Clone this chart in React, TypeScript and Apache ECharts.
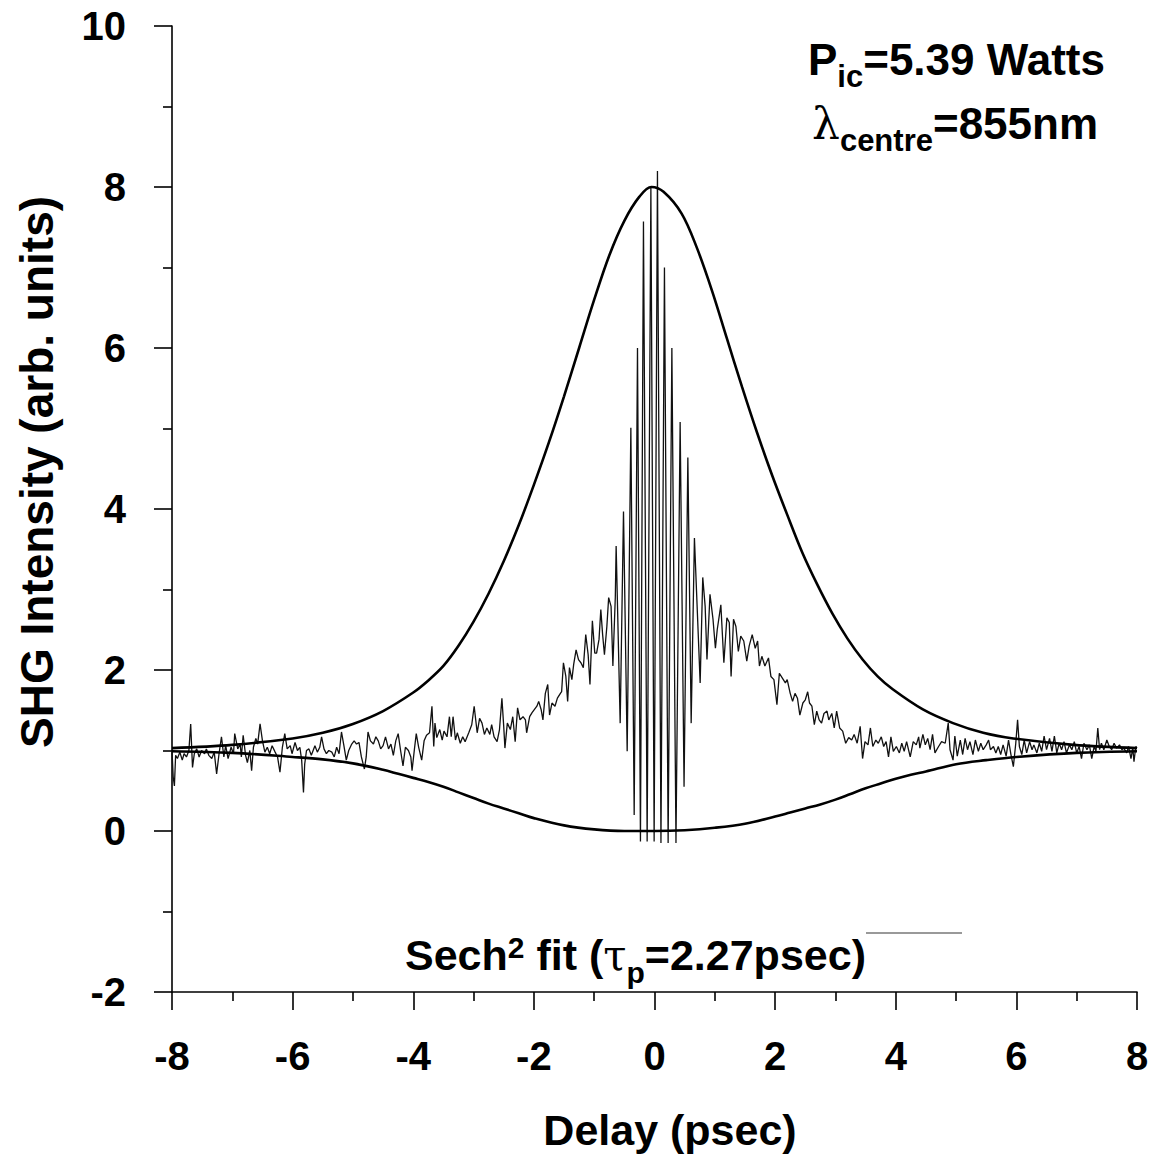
import React, { useEffect, useRef } from "react";
import * as echarts from "echarts";

const FONT = '"Liberation Sans", Arial, Helvetica, sans-serif';

// Axis settings (psec, arb. units)
const xRange = [-8, 8];
const yRange = [-2, 10];

// Sech^2 fit: upper envelope [delay, intensity]
const fitUpper: number[][] = [
  [-8, 1.03], [-7, 1.07], [-6, 1.15], [-5.5, 1.22], [-5, 1.33], [-4.5, 1.49], [-4, 1.72],
  [-3.75, 1.87], [-3.5, 2.05], [-3.25, 2.3], [-3, 2.6], [-2.75, 2.95], [-2.5, 3.35], [-2.25, 3.8],
  [-2, 4.3], [-1.75, 4.83], [-1.5, 5.4], [-1.25, 6.0], [-1, 6.6], [-0.75, 7.15], [-0.5, 7.58],
  [-0.25, 7.88], [-0.05, 8.0], [0.15, 7.94], [0.45, 7.67], [0.7, 7.25], [0.95, 6.72], [1.2, 6.12],
  [1.45, 5.52], [1.7, 4.95], [1.95, 4.42], [2.2, 3.93], [2.45, 3.46], [2.7, 3.06], [2.95, 2.7],
  [3.2, 2.39], [3.45, 2.13], [3.7, 1.92], [3.95, 1.76], [4.45, 1.51], [4.95, 1.34], [5.45, 1.22],
  [5.95, 1.15], [6.95, 1.07], [8, 1.03],
];

// Sech^2 fit: lower envelope [delay, intensity]
const fitLower: number[][] = [
  [-8, 0.99], [-7, 0.97], [-6, 0.92], [-5.5, 0.89], [-5, 0.84], [-4.5, 0.76], [-4.25, 0.71],
  [-4, 0.66], [-3.75, 0.61], [-3.5, 0.55], [-3.25, 0.48], [-3, 0.41], [-2.75, 0.34], [-2.5, 0.28],
  [-2.25, 0.22], [-2, 0.16], [-1.5, 0.07], [-1, 0.02], [-0.5, 0.0], [0, 0.0], [0.5, 0.01],
  [1, 0.04], [1.5, 0.09], [2, 0.18], [2.25, 0.23], [2.5, 0.28], [2.75, 0.33], [3, 0.39],
  [3.25, 0.46], [3.5, 0.53], [3.75, 0.59], [4, 0.65], [4.25, 0.7], [4.5, 0.74], [5, 0.83],
  [5.5, 0.88], [6, 0.92], [7, 0.97], [8, 0.99],
];

const traceLeft: number[][] = [
  [-8.0, 1.0], [-7.98, 0.67], [-7.96, 0.56], [-7.94, 0.94], [-7.91, 0.9], [-7.87, 0.98], [-7.83, 0.88],
  [-7.8, 0.96], [-7.76, 0.92], [-7.72, 1.0], [-7.69, 1.33], [-7.66, 0.79], [-7.63, 0.96], [-7.59, 1.02],
  [-7.55, 0.92], [-7.51, 1.0], [-7.46, 0.96], [-7.43, 1.02], [-7.39, 0.94], [-7.34, 0.9], [-7.3, 0.98],
  [-7.26, 0.71], [-7.22, 0.96], [-7.18, 1.17], [-7.14, 0.92], [-7.11, 1.06], [-7.07, 0.9], [-7.02, 1.04],
  [-6.98, 0.96], [-6.96, 1.21], [-6.91, 1.02], [-6.87, 1.08], [-6.85, 0.92], [-6.82, 1.19], [-6.78, 0.94],
  [-6.75, 0.85], [-6.71, 1.0], [-6.68, 0.75], [-6.65, 1.04], [-6.61, 1.15], [-6.58, 1.08], [-6.54, 1.33],
  [-6.5, 1.12], [-6.46, 0.98], [-6.42, 1.04], [-6.38, 0.96], [-6.34, 1.06], [-6.29, 0.98], [-6.25, 0.92],
  [-6.21, 0.73], [-6.17, 1.04], [-6.13, 1.21], [-6.09, 1.02], [-6.04, 1.06], [-6.01, 0.96], [-5.96, 1.1],
  [-5.92, 1.0], [-5.88, 1.04], [-5.85, 0.88], [-5.82, 0.48], [-5.8, 0.83], [-5.77, 1.0], [-5.73, 1.02],
  [-5.69, 0.94], [-5.63, 1.06], [-5.59, 0.98], [-5.55, 1.04], [-5.52, 1.17], [-5.48, 1.02], [-5.44, 0.96],
  [-5.4, 1.0], [-5.35, 0.98], [-5.31, 0.92], [-5.27, 1.04], [-5.23, 0.96], [-5.19, 1.23], [-5.15, 1.06],
  [-5.11, 0.88], [-5.07, 1.0], [-5.02, 1.08], [-4.98, 1.12], [-4.94, 1.08], [-4.9, 1.1], [-4.86, 0.92],
  [-4.81, 0.77], [-4.78, 0.92], [-4.75, 1.23], [-4.71, 1.12], [-4.66, 1.08], [-4.62, 1.17], [-4.58, 1.12],
  [-4.54, 1.02], [-4.5, 1.06], [-4.46, 1.17], [-4.41, 1.02], [-4.37, 1.08], [-4.33, 0.94], [-4.29, 1.12],
  [-4.25, 1.21], [-4.21, 1.0], [-4.17, 0.81], [-4.13, 1.04], [-4.08, 1.0], [-4.04, 0.92], [-4.02, 0.75],
  [-3.98, 1.02], [-3.95, 1.21], [-3.91, 1.04], [-3.86, 0.88], [-3.82, 1.12], [-3.78, 1.19],
];

const traceRise: number[][] = [
  [-3.73, 1.22], [-3.69, 1.55], [-3.66, 1.05], [-3.64, 1.34], [-3.61, 1.16], [-3.56, 1.26], [-3.52, 1.13],
  [-3.49, 1.24], [-3.44, 1.17], [-3.4, 1.42], [-3.37, 1.17], [-3.34, 1.42], [-3.3, 1.13], [-3.27, 1.22],
  [-3.22, 1.09], [-3.18, 1.17], [-3.14, 1.11], [-3.08, 1.22], [-3.03, 1.32], [-2.99, 1.55], [-2.94, 1.22],
  [-2.9, 1.4], [-2.86, 1.34], [-2.82, 1.2], [-2.78, 1.28], [-2.73, 1.2], [-2.7, 1.32], [-2.66, 1.17],
  [-2.61, 1.11], [-2.57, 1.26], [-2.53, 1.65], [-2.5, 1.3], [-2.48, 1.03], [-2.44, 1.34], [-2.39, 1.26],
  [-2.35, 1.42], [-2.31, 1.11], [-2.27, 1.53], [-2.23, 1.38], [-2.18, 1.42], [-2.14, 1.38], [-2.12, 1.22],
  [-2.07, 1.42], [-2.03, 1.47], [-1.99, 1.51], [-1.95, 1.55], [-1.92, 1.61], [-1.88, 1.51], [-1.85, 1.38],
  [-1.81, 1.71], [-1.77, 1.82], [-1.74, 1.44], [-1.7, 1.59], [-1.65, 1.55], [-1.61, 1.65], [-1.56, 1.71],
  [-1.54, 1.73], [-1.51, 2.09], [-1.47, 1.92], [-1.44, 1.61], [-1.41, 2.03], [-1.37, 1.88], [-1.34, 2.07],
  [-1.3, 2.25], [-1.26, 2.13], [-1.22, 2.09], [-1.18, 2.03], [-1.14, 2.44], [-1.1, 2.19], [-1.07, 1.82],
  [-1.03, 2.61], [-0.99, 2.21], [-0.96, 2.21], [-0.92, 2.38], [-0.89, 2.75], [-0.86, 2.44], [-0.83, 2.19],
  [-0.79, 2.54], [-0.76, 2.9], [-0.72, 2.79], [-0.69, 2.05], [-0.65, 2.9],
];

const traceFringes: number[][] = [
  [-0.636, 3.54], [-0.569, 1.34], [-0.514, 3.97], [-0.453, 0.99], [-0.392, 5.01], [-0.337, 0.2],
  [-0.282, 6.0], [-0.233, -0.13], [-0.183, 7.57], [-0.122, -0.13], [-0.06, 8.0], [-0.006, -0.13],
  [0.049, 8.2], [0.107, -0.15], [0.165, 7.0], [0.226, -0.15], [0.288, 6.0], [0.356, -0.15],
  [0.425, 5.08], [0.49, 0.55], [0.553, 4.64], [0.608, 1.34], [0.662, 3.64],
];

const traceFall: number[][] = [
  [0.757, 1.84], [0.8, 3.15], [0.84, 2.79], [0.87, 2.13], [0.92, 2.94], [0.97, 2.63], [1.01, 2.27],
  [1.04, 2.5], [1.1, 2.81], [1.15, 2.09], [1.2, 2.65], [1.24, 2.59], [1.27, 1.92], [1.31, 2.63],
  [1.35, 2.54], [1.39, 2.23], [1.43, 2.42], [1.48, 2.36], [1.53, 2.11], [1.57, 2.3], [1.62, 2.44],
  [1.67, 2.27], [1.71, 2.36], [1.74, 2.05], [1.78, 2.17], [1.83, 2.05], [1.89, 2.15], [1.93, 1.92],
  [1.98, 1.88], [2.03, 1.57], [2.07, 1.96], [2.12, 1.9], [2.17, 1.84], [2.2, 1.88], [2.25, 1.71],
  [2.29, 1.61], [2.33, 1.71], [2.37, 1.65], [2.41, 1.44], [2.46, 1.59], [2.5, 1.63], [2.54, 1.73],
  [2.57, 1.59], [2.61, 1.55], [2.65, 1.32], [2.69, 1.49], [2.73, 1.38], [2.77, 1.34], [2.81, 1.46],
  [2.86, 1.49], [2.89, 1.38], [2.94, 1.46], [2.98, 1.28], [3.02, 1.49], [3.07, 1.28], [3.12, 1.24],
  [3.17, 1.09], [3.22, 1.16], [3.27, 1.13], [3.31, 1.2], [3.36, 1.09], [3.41, 1.3], [3.45, 0.9],
  [3.49, 1.11], [3.54, 1.07], [3.58, 1.28], [3.62, 1.05], [3.67, 1.13], [3.71, 1.09], [3.76, 1.17],
  [3.8, 1.05], [3.84, 1.11], [3.88, 0.92], [3.92, 1.17], [3.96, 0.99], [4.01, 1.05], [4.06, 0.97],
  [4.1, 1.09], [4.14, 0.99], [4.18, 1.11], [4.24, 0.92], [4.29, 1.11], [4.34, 1.07], [4.38, 1.17],
];

const traceRight: number[][] = [
  [4.4, 1.03], [4.45, 1.2], [4.49, 1.07], [4.53, 1.15], [4.57, 1.01], [4.61, 1.2], [4.65, 0.97],
  [4.71, 1.05], [4.76, 1.11], [4.82, 1.09], [4.87, 1.34], [4.9, 1.01], [4.95, 0.88], [4.98, 1.18],
  [5.02, 0.93], [5.07, 1.13], [5.11, 0.95], [5.15, 1.15], [5.19, 1.01], [5.23, 1.11], [5.28, 0.95],
  [5.32, 1.13], [5.37, 0.99], [5.41, 1.09], [5.45, 1.01], [5.5, 1.07], [5.54, 1.13], [5.57, 1.01],
  [5.62, 1.05], [5.66, 0.97], [5.7, 1.05], [5.74, 0.95], [5.78, 1.07], [5.83, 0.93], [5.87, 1.13],
  [5.91, 0.95], [5.95, 0.8], [5.99, 1.09], [6.02, 1.38], [6.05, 1.05], [6.09, 0.95], [6.13, 1.13],
  [6.17, 0.97], [6.22, 1.11], [6.26, 1.01], [6.29, 1.07], [6.34, 0.97], [6.38, 1.09], [6.42, 0.99],
  [6.46, 1.18], [6.5, 1.01], [6.55, 1.15], [6.59, 0.99], [6.63, 1.18], [6.67, 0.97], [6.71, 1.09],
  [6.75, 1.01], [6.79, 1.11], [6.83, 0.97], [6.88, 1.07], [6.92, 1.01], [6.96, 1.11], [7.0, 0.97],
  [7.04, 1.05], [7.08, 0.9], [7.12, 1.09], [7.17, 1.01], [7.21, 1.07], [7.25, 0.9], [7.29, 1.05],
  [7.32, 0.99], [7.35, 1.28], [7.38, 1.01], [7.41, 1.09], [7.45, 1.01], [7.5, 1.13], [7.54, 1.05],
  [7.58, 1.01], [7.62, 1.09], [7.66, 1.03], [7.71, 1.07], [7.75, 1.01], [7.78, 1.03], [7.83, 0.97],
  [7.86, 1.05], [7.9, 0.9], [7.93, 1.03], [7.95, 0.86], [7.98, 1.05], [8.0, 1.03],
];

// Texts
const xTitle = "Delay (psec)";
const yTitle = "SHG Intensity (arb. units)";
type Run = { t: string; size: number; dy: number; fam?: string; w?: string };
const powerLabel: Run[] = [
  { t: "P", size: 44, dy: 0 },
  { t: "ic", size: 31, dy: 11 },
  { t: "=5.39 Watts", size: 44, dy: 0 },
];
const lambdaLabel: Run[] = [
  { t: "\u03bb", size: 44, dy: 0, w: "normal", fam: '"DejaVu Serif", serif' },
  { t: "centre", size: 31, dy: 11 },
  { t: "=855nm", size: 44, dy: 0 },
];
const fitLabel: Run[] = [
  { t: "Sech", size: 43, dy: 0 },
  { t: "2", size: 30, dy: -14 },
  { t: " fit (", size: 43, dy: 0 },
  { t: "\u03c4", size: 42, dy: 0, w: "normal", fam: '"DejaVu Serif", serif' },
  { t: "p", size: 30, dy: 11 },
  { t: "=2.27psec)", size: 43, dy: 0 },
];

let measureCtx: CanvasRenderingContext2D | null = null;
function textWidth(r: Run): number {
  if (!measureCtx) measureCtx = document.createElement("canvas").getContext("2d");
  if (!measureCtx) return r.t.length * r.size * 0.55;
  measureCtx.font = `${r.w || "bold"} ${r.size}px ${r.fam || FONT}`;
  return measureCtx.measureText(r.t).width;
}

function runsToGraphic(runs: Run[], x0: number, baseline: number) {
  let x = x0;
  return runs.map((r) => {
    const el = {
      type: "text",
      x,
      y: baseline + r.dy,
      style: {
        text: r.t,
        font: `${r.w || "bold"} ${r.size}px ${r.fam || FONT}`,
        fill: "#000",
        align: "left",
        verticalAlign: "bottom",
      },
    };
    x += textWidth(r);
    return el;
  });
}

export default function App() {
  const ref = useRef<HTMLDivElement>(null);
  useEffect(() => {
    document.body.style.margin = "0";
    if (!ref.current) return;
    const chart = echarts.init(ref.current, null, { renderer: "svg" });
    const trace = [...traceLeft, ...traceRise, ...traceFringes, ...traceFall, ...traceRight];
    const axisStyle = { color: "#000", width: 1.6 };
    chart.setOption({
      animation: false,
      backgroundColor: "#fff",
      grid: { left: 172, right: 20, top: 26, bottom: 169, containLabel: false },
      xAxis: {
        type: "value",
        min: xRange[0],
        max: xRange[1],
        interval: 2,
        axisLine: { show: true, onZero: false, lineStyle: axisStyle },
        axisTick: { show: true, length: 18, lineStyle: axisStyle },
        minorTick: { show: true, splitNumber: 2, length: 9, lineStyle: axisStyle },
        splitLine: { show: false },
        axisLabel: { fontFamily: FONT, fontWeight: "bold", fontSize: 40, color: "#000", margin: 44 },
      },
      yAxis: {
        type: "value",
        min: yRange[0],
        max: yRange[1],
        interval: 2,
        axisLine: { show: true, onZero: false, lineStyle: axisStyle },
        axisTick: { show: true, length: 18, lineStyle: axisStyle },
        minorTick: { show: true, splitNumber: 2, length: 9, lineStyle: axisStyle },
        splitLine: { show: false },
        axisLabel: { fontFamily: FONT, fontWeight: "bold", fontSize: 40, color: "#000", margin: 46 },
      },
      series: [
        {
          name: "upper fit",
          type: "line",
          data: fitUpper,
          smooth: 0.35,
          showSymbol: false,
          lineStyle: { color: "#000", width: 2.6 },
          z: 3,
        },
        {
          name: "lower fit",
          type: "line",
          data: fitLower,
          smooth: 0.35,
          showSymbol: false,
          lineStyle: { color: "#000", width: 2.6 },
          z: 3,
        },
        {
          name: "SHG trace",
          type: "line",
          data: trace,
          showSymbol: false,
          lineStyle: { color: "#111", width: 1.3 },
          z: 2,
        },
      ],
      graphic: [
        {
          type: "text",
          x: 37,
          y: 472,
          rotation: Math.PI / 2,
          style: {
            text: yTitle,
            font: `bold 46px ${FONT}`,
            fill: "#000",
            align: "center",
            verticalAlign: "middle",
          },
        },
        {
          type: "text",
          x: 670,
          y: 1130,
          style: {
            text: xTitle,
            font: `bold 43px ${FONT}`,
            fill: "#000",
            align: "center",
            verticalAlign: "middle",
          },
        },
        ...runsToGraphic(powerLabel, 808, 81),
        ...runsToGraphic(lambdaLabel, 812, 145),
        ...runsToGraphic(fitLabel, 405, 976),
        {
          type: "line",
          shape: { x1: 866, y1: 933, x2: 962, y2: 933 },
          style: { stroke: "#777", lineWidth: 1.5 },
        },
      ],
    });
    return () => chart.dispose();
  }, []);
  return <div ref={ref} style={{ width: 1157, height: 1161 }} />;
}
